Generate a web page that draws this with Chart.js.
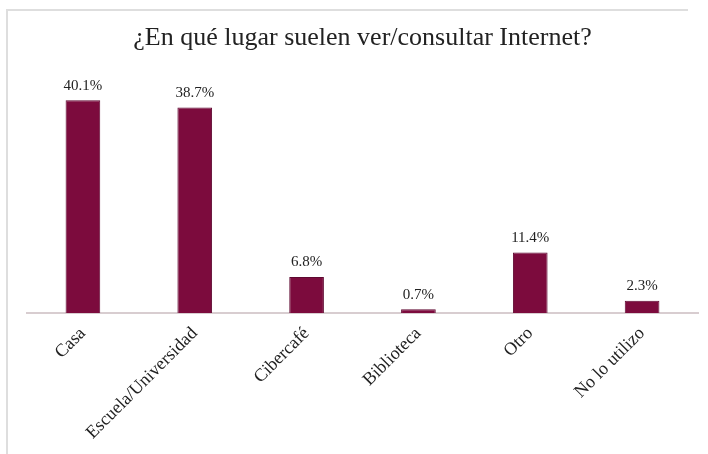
<!DOCTYPE html>
<html>
<head>
<meta charset="utf-8">
<script src="https://cdn.jsdelivr.net/npm/chart.js@4/dist/chart.umd.min.js"></script>
<style>
  html, body { margin: 0; padding: 0; background: #fff; }
  #wrap { position: relative; width: 708px; height: 454px; }
  #frame { position: absolute; left: 6px; top: 9px; right: 20px; bottom: 0; border-left: 2px solid #dedede; border-top: 2px solid #dedede; }
  canvas { position: absolute; left: 0; top: 0; }
</style>
</head>
<body>
<div id="wrap">
  <div id="frame"></div>
  <canvas id="chart" width="708" height="454"></canvas>
</div>
<script>
// Data
const categories = ['Casa', 'Escuela/Universidad', 'Cibercafé', 'Biblioteca', 'Otro', 'No lo utilizo'];
const percentages = [40.1, 38.7, 6.8, 0.7, 11.4, 2.3];
const chartTitle = '¿En qué lugar suelen ver/consultar Internet?';

const SERIF = '"Liberation Serif", "Times New Roman", serif';
const BAR_COLOR = '#7c0b3d';

// Value labels above each bar
const valueLabels = {
    id: 'valueLabels',
    afterDatasetsDraw(chart) {
        const ctx = chart.ctx;
        const meta = chart.getDatasetMeta(0);
        ctx.save();
        ctx.font = '15px ' + SERIF;
        ctx.fillStyle = '#222';
        ctx.textAlign = 'center';
        ctx.textBaseline = 'bottom';
        meta.data.forEach((bar, i) => {
            ctx.fillText(percentages[i].toFixed(1) + '%', bar.x, bar.y - 7);
        });
        ctx.restore();
    }
};

new Chart(document.getElementById('chart'), {
    type: 'bar',
    data: {
        labels: categories,
        datasets: [{
            data: percentages,
            backgroundColor: BAR_COLOR,
            borderColor: '#5e0830',
            borderWidth: 1,
            barPercentage: 0.31,
            categoryPercentage: 1
        }]
    },
    options: {
        responsive: false,
        animation: false,
        layout: { padding: { left: 27, right: 10, top: 0, bottom: 0 } },
        plugins: {
            legend: { display: false },
            tooltip: { enabled: false },
            title: {
                display: true,
                text: chartTitle,
                color: '#222',
                font: { family: SERIF, size: 26, weight: 'normal' },
                padding: { top: 23, bottom: 4 }
            }
        },
        scales: {
            x: {
                grid: { display: false, drawTicks: false },
                border: { display: true, color: '#d8cdd0', width: 2 },
                ticks: {
                    color: '#222',
                    font: { family: SERIF, size: 18 },
                    minRotation: 45,
                    maxRotation: 45,
                    padding: 10,
                    autoSkip: false
                },
                afterFit(scale) { scale.height = 141; }
            },
            y: {
                display: false,
                min: 0,
                max: 48
            }
        }
    },
    plugins: [valueLabels]
});
</script>
</body>
</html>
